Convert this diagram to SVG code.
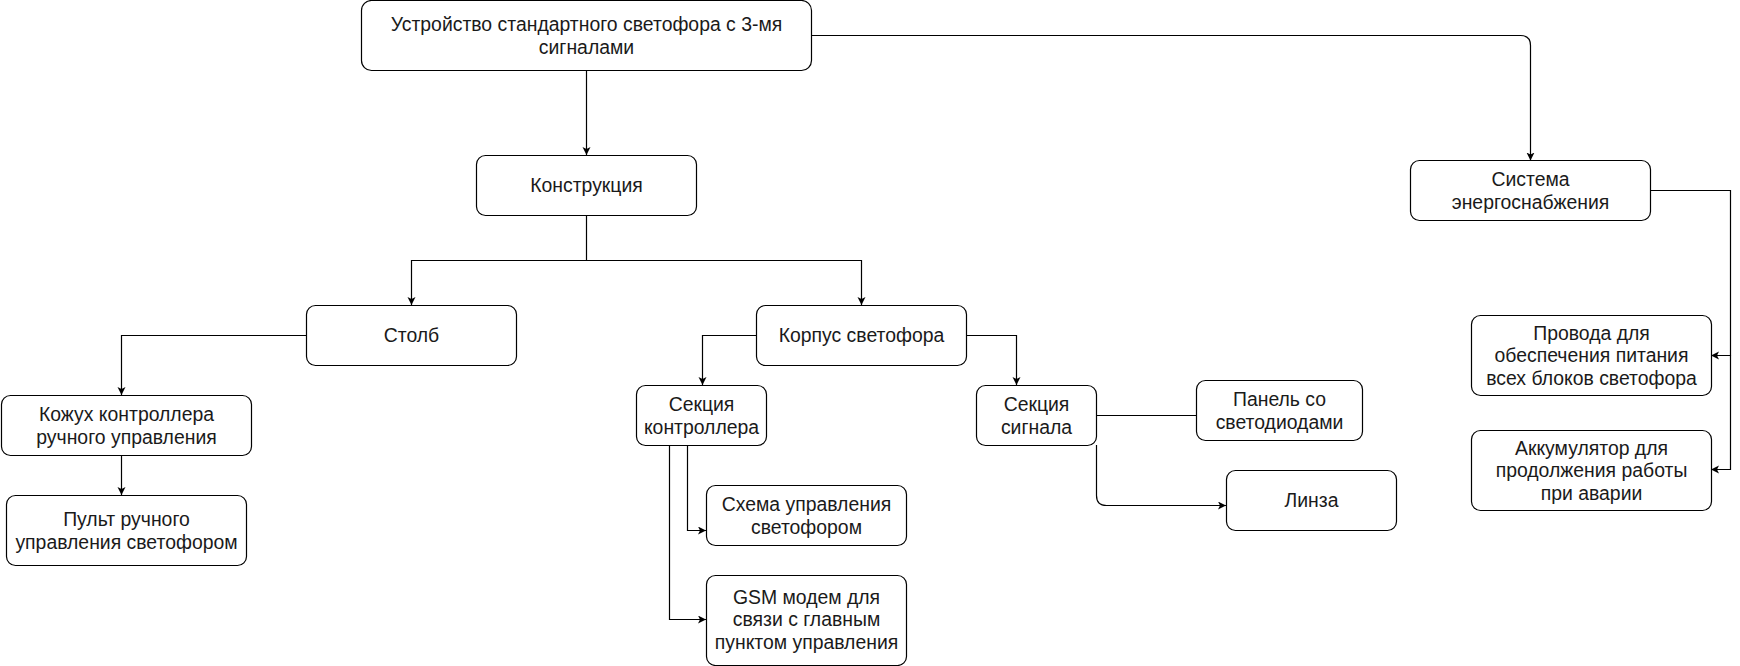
<svg xmlns="http://www.w3.org/2000/svg" width="1740" height="666" viewBox="0 0 1740 666">
<defs>
<style>
.box{fill:#fff;stroke:#000;stroke-width:1.2}
.t{font-family:"Liberation Sans",Arial,sans-serif;font-size:19.4px;fill:#1a1a1a;text-anchor:middle}
.c{fill:none;stroke:#000;stroke-width:1.2}
.a{marker-end:url(#arr)}
</style>
<marker id="arr" markerUnits="userSpaceOnUse" markerWidth="10" markerHeight="10" refX="8" refY="4" orient="auto">
<path d="M0,0 L8,4 L0,8 L2,4 z" fill="#000"/>
</marker>
</defs>
<rect width="1740" height="666" fill="#fff"/>
<g id="connectors">
<path class="c a" d="M586.5,70.5 V155"/>
<path class="c a" d="M811,35.5 H1520.5 Q1530.5,35.5 1530.5,45.5 V160.5"/>
<path class="c a" d="M586.5,215 V260.5 H411.5 V305"/>
<path class="c a" d="M586.5,260.5 H861.5 V305"/>
<path class="c a" d="M306,335.5 H121.5 V395"/>
<path class="c a" d="M121.5,455 V495"/>
<path class="c a" d="M756,335.5 H702.5 V385"/>
<path class="c a" d="M966,335.5 H1016.5 V385"/>
<path class="c a" d="M687.5,445 V530.5 H706"/>
<path class="c a" d="M669.5,445 V619.5 H706"/>
<path class="c" d="M1096,415.5 H1196"/>
<path class="c a" d="M1096.5,445 V495.5 Q1096.5,505.5 1106.5,505.5 H1226"/>
<path class="c a" d="M1650.5,190.5 H1730.5 V355.5 H1711"/>
<path class="c a" d="M1730.5,355.5 V469.5 H1711"/>
</g>
<g id="n_top"><rect class="box" x="361.5" y="0.5" width="450" height="70" rx="10"/><text class="t" x="586.5" y="31">Устройство стандартного светофора с 3-мя</text><text class="t" x="586.5" y="53.5">сигналами</text></g>
<g id="n_konstr"><rect class="box" x="476.5" y="155.5" width="220" height="60" rx="9"/><text class="t" x="586.5" y="192.3">Конструкция</text></g>
<g id="n_sistema"><rect class="box" x="1410.5" y="160.5" width="240" height="60" rx="9"/><text class="t" x="1530.5" y="186">Система</text><text class="t" x="1530.5" y="208.5">энергоснабжения</text></g>
<g id="n_stolb"><rect class="box" x="306.5" y="305.5" width="210" height="60" rx="9"/><text class="t" x="411.5" y="342.3">Столб</text></g>
<g id="n_korpus"><rect class="box" x="756.5" y="305.5" width="210" height="60" rx="9"/><text class="t" x="861.5" y="342.3">Корпус светофора</text></g>
<g id="n_kozhukh"><rect class="box" x="1.5" y="395.5" width="250" height="60" rx="9"/><text class="t" x="126.5" y="421">Кожух контроллера</text><text class="t" x="126.5" y="443.5">ручного управления</text></g>
<g id="n_pult"><rect class="box" x="6.5" y="495.5" width="240" height="70" rx="9"/><text class="t" x="126.5" y="526">Пульт ручного</text><text class="t" x="126.5" y="548.5">управления светофором</text></g>
<g id="n_sek_kontr"><rect class="box" x="636.5" y="385.5" width="130" height="60" rx="9"/><text class="t" x="701.5" y="411">Секция</text><text class="t" x="701.5" y="433.5">контроллера</text></g>
<g id="n_sek_sign"><rect class="box" x="976.5" y="385.5" width="120" height="60" rx="9"/><text class="t" x="1036.5" y="411">Секция</text><text class="t" x="1036.5" y="433.5">сигнала</text></g>
<g id="n_schema"><rect class="box" x="706.5" y="485.5" width="200" height="60" rx="9"/><text class="t" x="806.5" y="511">Схема управления</text><text class="t" x="806.5" y="533.5">светофором</text></g>
<g id="n_gsm"><rect class="box" x="706.5" y="575.5" width="200" height="90" rx="9"/><text class="t" x="806.5" y="603.8">GSM модем для</text><text class="t" x="806.5" y="626.3">связи с главным</text><text class="t" x="806.5" y="648.8">пунктом управления</text></g>
<g id="n_panel"><rect class="box" x="1196.5" y="380.5" width="166" height="60" rx="9"/><text class="t" x="1279.5" y="406">Панель со</text><text class="t" x="1279.5" y="428.5">светодиодами</text></g>
<g id="n_linza"><rect class="box" x="1226.5" y="470.5" width="170" height="60" rx="9"/><text class="t" x="1311.5" y="507.3">Линза</text></g>
<g id="n_provoda"><rect class="box" x="1471.5" y="315.5" width="240" height="80" rx="9"/><text class="t" x="1591.5" y="339.8">Провода для</text><text class="t" x="1591.5" y="362.3">обеспечения питания</text><text class="t" x="1591.5" y="384.8">всех блоков светофора</text></g>
<g id="n_akkum"><rect class="box" x="1471.5" y="430.5" width="240" height="80" rx="9"/><text class="t" x="1591.5" y="454.8">Аккумулятор для</text><text class="t" x="1591.5" y="477.3">продолжения работы</text><text class="t" x="1591.5" y="499.8">при аварии</text></g>
</svg>
